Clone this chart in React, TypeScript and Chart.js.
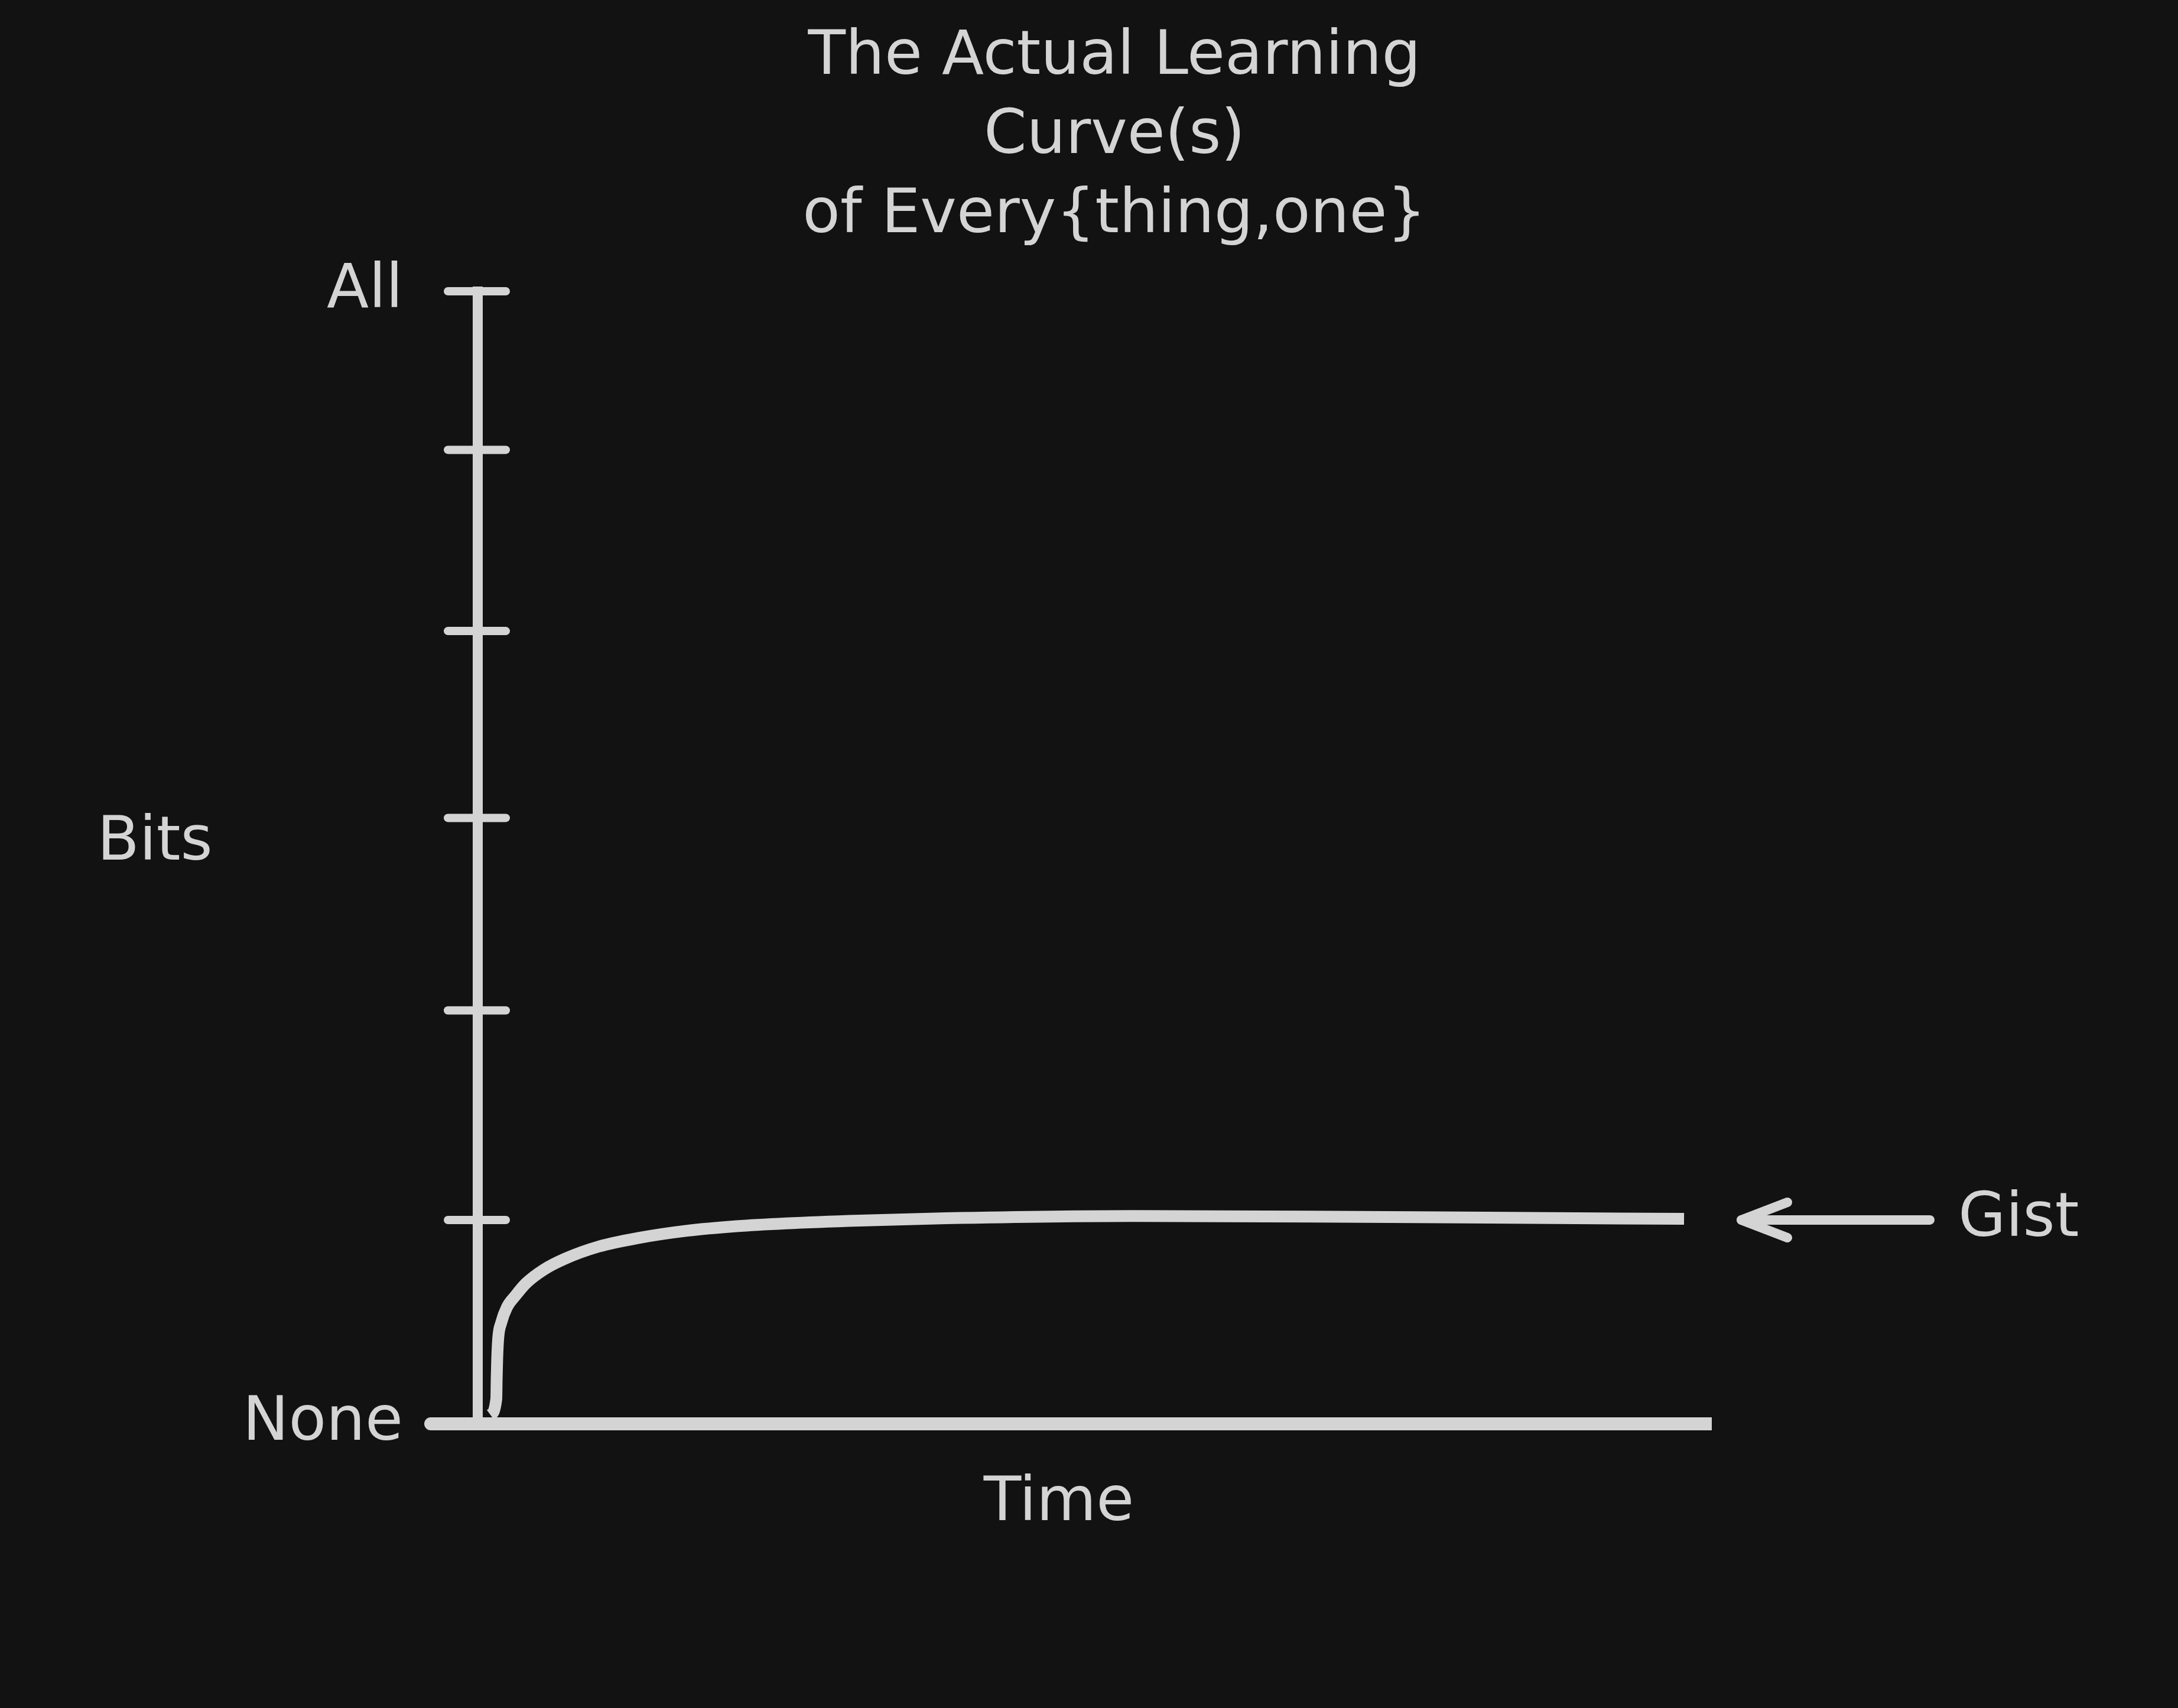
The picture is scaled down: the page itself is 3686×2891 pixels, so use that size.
import React, { useRef, useEffect } from 'react';
import { Chart, registerables } from 'chart.js';

Chart.register(...registerables);

const TITLE_LINES = ['The Actual Learning', 'Curve(s)', 'of Every{thing,one}'];
const Y_TICKS = [0, 18, 36.5, 53.5, 70, 86, 100];
const Y_TICK_LABELS = ['None', '', '', '', '', '', 'All'];
const Y_LABEL = 'Bits';
const X_LABEL = 'Time';

// learning curve: time (0-100) against bits (0-100)
const CURVE_TIME = [
  1.05, 1.53, 1.56, 1.6, 1.68, 1.92, 2.39, 3.07, 3.93, 5.36, 7.14, 9.82, 13.0, 17.0, 21.0, 25.0, 31.0, 38.0,
  53.0, 67.5, 82.0, 97.8,
];
const CURVE_BITS = [
  0.8, 2.2, 4.0, 5.7, 7.5, 8.9, 10.3, 11.3, 12.4, 13.6, 14.6, 15.65, 16.4, 17.05, 17.45, 17.7, 17.95, 18.15,
  18.35, 18.3, 18.2, 18.1,
];

const GIST_LEVEL = 18;
const GIST_LABEL = 'Gist';

const INK = '#d4d4d4';
const BG = '#121212';
const FONT = '"DejaVu Sans", sans-serif';
const FONT_SIZE = 104;

// draws the hand-made bits: crossing tick marks, arrow and free text
const sketchPlugin = {
  id: 'sketch',
  afterDraw(chart: any) {
    const { ctx, chartArea, scales } = chart;
    const y = scales.y;
    const axisX = chartArea.left;
    ctx.save();
    ctx.strokeStyle = INK;
    ctx.lineCap = 'round';
    ctx.lineJoin = 'round';

    ctx.lineWidth = 14;
    y.ticks.forEach((t: any) => {
      if (t.value === 0) return;
      const py = y.getPixelForValue(t.value);
      ctx.beginPath();
      ctx.moveTo(axisX - 50, py);
      ctx.lineTo(axisX + 48, py);
      ctx.stroke();
    });

    // x axis runs a little past the y axis
    ctx.lineWidth = 22;
    ctx.beginPath();
    ctx.moveTo(axisX - 79, chartArea.bottom);
    ctx.lineTo(axisX, chartArea.bottom);
    ctx.stroke();

    // arrow pointing at the gist level
    const gy = y.getPixelForValue(GIST_LEVEL);
    const tip = chartArea.right + 51;
    const tail = chartArea.right + 370;
    ctx.lineWidth = 16;
    ctx.beginPath();
    ctx.moveTo(tail, gy);
    ctx.lineTo(tip, gy);
    ctx.stroke();
    ctx.beginPath();
    ctx.moveTo(tip + 78, gy - 30);
    ctx.lineTo(tip, gy);
    ctx.lineTo(tip + 78, gy + 30);
    ctx.stroke();

    ctx.fillStyle = INK;
    ctx.font = `${FONT_SIZE}px ${FONT}`;
    ctx.textBaseline = 'middle';
    ctx.textAlign = 'left';
    ctx.fillText(GIST_LABEL, tail + 48, gy);

    ctx.textAlign = 'center';
    TITLE_LINES.forEach((line, i) => ctx.fillText(line, chart.width / 2 + 43, 98 + i * 134));
    ctx.fillText(Y_LABEL, axisX - 546, (chartArea.top + chartArea.bottom) / 2 - 24);
    ctx.fillText(X_LABEL, axisX + 984, chartArea.bottom + 136);
    ctx.restore();
  },
};

const App: React.FC = () => {
  const chartRef = useRef<HTMLCanvasElement>(null);
  const chartInstance = useRef<Chart | null>(null);

  useEffect(() => {
    if (!chartRef.current) return;
    if (chartInstance.current) {
      chartInstance.current.destroy();
    }

    const points = CURVE_TIME.map((t, i) => ({ x: t, y: CURVE_BITS[i] }));

    chartInstance.current = new Chart(chartRef.current, {
      type: 'line',
      data: {
        datasets: [
          {
            label: 'Learning curve',
            data: points,
            borderColor: INK,
            borderWidth: 20,
            pointRadius: 0,
            cubicInterpolationMode: 'monotone',
            fill: false,
          },
        ],
      },
      options: {
        animation: false,
        responsive: true,
        maintainAspectRatio: false,
        events: [],
        layout: {
          padding: { left: 0, right: 790, top: 493, bottom: 481 },
        },
        plugins: {
          legend: { display: false },
          tooltip: { enabled: false },
          title: { display: false },
        },
        scales: {
          x: {
            type: 'linear',
            min: 0,
            max: 100,
            ticks: { display: false },
            grid: { display: false },
            border: { display: true, color: INK, width: 22 },
            afterFit: (s: any) => {
              s.height = 0;
            },
          },
          y: {
            type: 'linear',
            min: 0,
            max: 100,
            afterBuildTicks: (s: any) => {
              s.ticks = Y_TICKS.map((v) => ({ value: v }));
            },
            ticks: {
              callback: (_v: any, index: number) => Y_TICK_LABELS[index] ?? '',
              color: INK,
              font: { family: FONT, size: FONT_SIZE },
              padding: 126,
              autoSkip: false,
            },
            grid: { display: false, drawTicks: false },
            border: { display: true, color: INK, width: 17 },
            afterFit: (s: any) => {
              s.width = 808;
            },
          },
        },
      },
      plugins: [sketchPlugin],
    } as any);

    return () => {
      if (chartInstance.current) {
        chartInstance.current.destroy();
        chartInstance.current = null;
      }
    };
  }, []);

  return (
    <div style={{ position: 'fixed', inset: 0, background: BG }}>
      <canvas ref={chartRef} />
    </div>
  );
};

export default App;
